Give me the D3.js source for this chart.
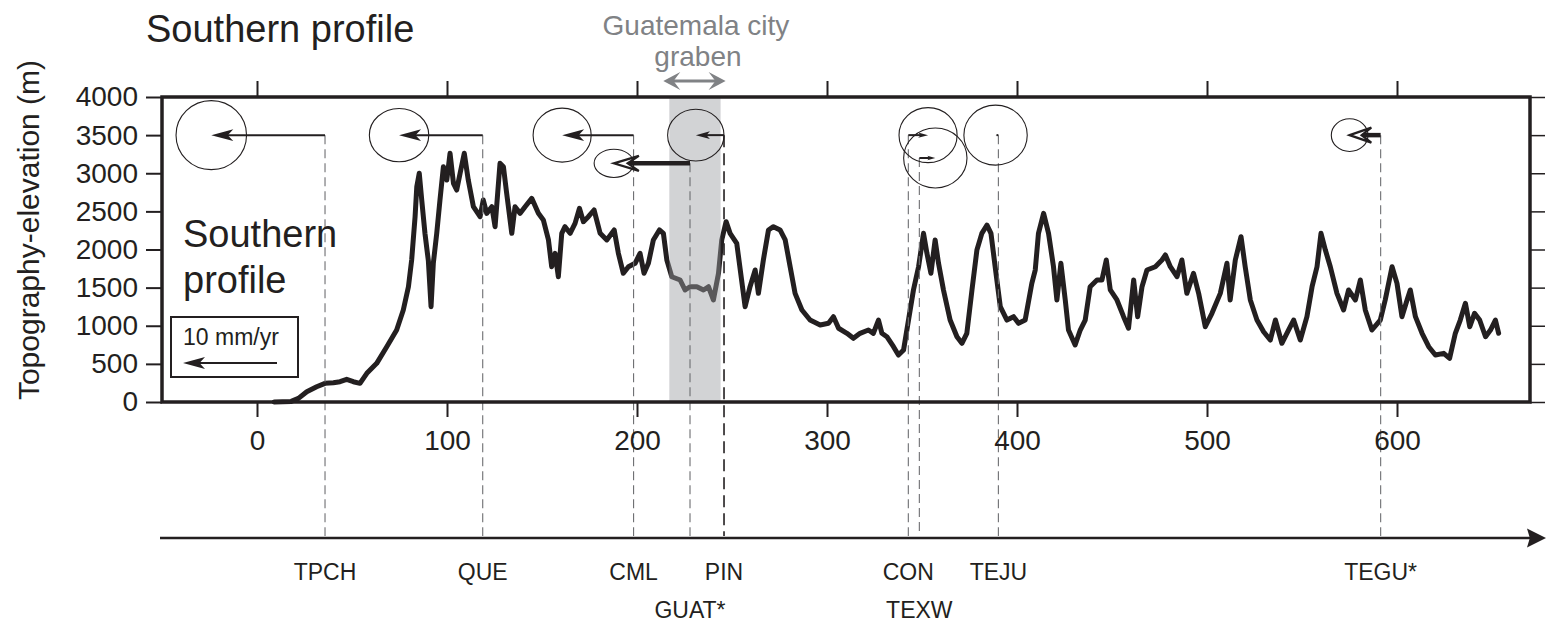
<!DOCTYPE html>
<html><head><meta charset="utf-8">
<script src="https://cdn.jsdelivr.net/npm/d3@7"></script>
<style>
body{margin:0;background:#fff}
svg{display:block}
text{font-family:"Liberation Sans",Arial,Helvetica,sans-serif}
</style>
</head><body>
<svg id="c" width="1546" height="627"></svg>
<script>
// ---------------- DATA ----------------
const xTicks = [0, 100, 200, 300, 400, 500, 600];
const yTicks = [0, 500, 1000, 1500, 2000, 2500, 3000, 3500, 4000];

// topographic profile: distance along profile (km) and elevation (m)
const profileKm = [9,18,21.8,26.2,31.4,35.8,40.2,43.7,47.2,50.7,54.2,57.8,63.0,68.3,73.5,77.0,79.7,81.4,83.2,84.1,85.4,86.7,88.4,90.2,91.6,92.8,94.6,96.3,98.1,99.9,101.6,103.4,105.1,106.9,109.1,111.2,113.9,117.4,119.1,120.9,123.6,125.3,127.9,129.7,131.4,134.1,135.8,138.5,141.1,144.6,148.1,150.7,153.4,155.1,156.9,158.6,160.4,162.1,164.8,167.4,169.7,171.8,174.4,177.4,180.6,184.1,188.0,190.2,192.8,195.5,199.0,201.6,203.7,206.0,208.6,211.8,213.9,215.7,218.3,222.7,225.3,227.9,231.5,235.0,237.6,240.2,242.9,244.6,246.9,249.0,252.5,256.9,259.5,262.2,263.9,266.5,269.2,271.8,275.3,278.0,280.6,283.2,286.8,291.1,296.4,300.8,303.4,306.1,310.5,313.9,317.4,321.8,324.4,327.1,328.9,331.5,335.0,337.6,340.3,342.9,345.5,348.2,350.8,352.6,354.7,356.9,358.7,361.3,364.8,368.4,371.0,373.6,376.3,378.9,381.5,384.2,386.3,388.5,391.2,394.7,398.2,400.8,404.3,407.8,409.6,411.3,414.0,416.6,419.2,421.0,423.1,425.4,427.1,430.6,433.3,435.9,438.5,442.1,444.7,447.0,449.1,452.6,456.1,458.7,461.4,463.5,465.8,468.4,472.8,476.3,478.1,480.7,484.2,486.8,489.4,492.9,495.6,499.1,502.6,507.0,510.5,512.2,514.9,517.9,520.1,522.8,526.3,529.8,533.3,536.0,539.4,542.9,545.6,549.1,552.6,555.3,557.9,560.0,562.3,564.9,568.4,571.9,574.5,578.1,580.7,583.3,586.8,591.2,593.8,597.4,600.0,602.6,605.3,607.0,609.7,613.2,616.7,620.2,624.6,627.7,630.7,633.3,636.0,638.3,640.8,643.5,646.6,649.2,651.8,653.5];
const profileElev = [0,8,48,135,200,245,253,266,297,266,245,376,507,725,944,1207,1512,1862,2430,2824,3000,2649,2212,1849,1250,1819,2212,2649,3086,2911,3262,2868,2780,3000,3262,2911,2561,2430,2649,2474,2561,2299,3130,3086,2737,2212,2561,2474,2561,2671,2474,2387,2125,1774,1950,1643,2212,2299,2212,2343,2540,2365,2430,2518,2212,2125,2256,1950,1688,1774,1819,1950,1688,1819,2125,2256,2212,1862,1643,1600,1469,1512,1512,1469,1512,1338,1688,2125,2365,2212,2081,1250,1512,1731,1425,1862,2256,2299,2256,2125,1774,1425,1207,1075,1010,1032,1119,967,901,835,901,944,901,1075,901,856,725,616,682,1075,1469,1774,2212,1950,1688,2125,1819,1469,1075,856,770,901,1469,1993,2212,2321,2212,1774,1250,1075,1119,1032,1075,1556,1731,2212,2474,2212,1774,1338,1819,1338,944,748,944,1075,1512,1600,1600,1862,1469,1338,1119,967,1600,1119,1512,1731,1774,1862,1928,1774,1643,1862,1425,1688,1425,987,1163,1425,1819,1338,1862,2168,1774,1338,1075,922,813,1075,770,944,1075,813,1119,1512,1774,2212,1993,1774,1425,1207,1469,1338,1600,1207,944,1075,1338,1774,1556,1119,1338,1469,1119,901,725,616,638,573,901,1075,1294,987,1163,1075,856,944,1075,901];

// GPS stations projected on the profile
const stationNames = ["TPCH", "QUE", "CML", "GUAT*", "PIN", "CON", "TEXW", "TEJU", "TEGU*"];
const stationKm    = [35.8, 118.8, 198.2, 227.9, 245.8, 342.8, 348.6, 390.2, 591.4];
const stationPlotElev = [3500, 3500, 3500, 3130, 3500, 3500, 3200, 3500, 3500];
const stationVel   = [-12.1, -8.9, -7.6, -8.1, -3.0, 2.1, 1.7, -0.3, -3.3];   // mm/yr along profile
const stationSigX  = [3.75, 3.16, 3.09, 2.1, 3.0, 3.09, 3.37, 3.37, 1.95];     // mm/yr
const stationSigY  = [3.67, 2.84, 2.87, 1.5, 2.75, 2.93, 3.19, 3.19, 1.74];    // mm/yr
const stationLabelRow = [0, 0, 0, 1, 0, 0, 1, 0, 0];
const thickStations = ["GUAT*", "TEGU*"];

const grabenKm = [217, 244];
const legendVel = 10; // mm/yr

// ---------------- DRAW ----------------
const ink = "#231f20", grey = "#808285";
const svg = d3.select("#c");
const x = d3.scaleLinear().domain([-50, 670]).range([162, 1530]);
const y = d3.scaleLinear().domain([0, 4000]).range([402, 97]);
const v = d3.scaleLinear().domain([0, 10]).range([0, 94]);
const axisArrowY = 538;

// titles
svg.append("text").attr("x", 146).attr("y", 42).attr("font-size", 38).attr("fill", ink).text("Southern profile");
svg.append("text").attr("transform", "translate(39,230) rotate(-90)").attr("text-anchor", "middle")
  .attr("font-size", 30).attr("fill", ink).text("Topography-elevation (m)");

// graben label
const gx = (x(grabenKm[0]) + x(grabenKm[1])) / 2;
svg.append("text").attr("x", gx + 1).attr("y", 35).attr("text-anchor", "middle").attr("font-size", 28).attr("fill", grey).text("Guatemala city");
svg.append("text").attr("x", gx + 3).attr("y", 66).attr("text-anchor", "middle").attr("font-size", 28).attr("fill", grey).text("graben");

function head(tx, ty, dir, L, W, notch) {
  return [[tx, ty], [tx - dir * L, ty - W], [tx - dir * L * notch, ty], [tx - dir * L, ty + W]];
}
const lineGen = d3.line();
{
  const a0 = x(grabenKm[0]) - 6, a1 = x(grabenKm[1]) + 5, ay = 81;
  svg.append("line").attr("x1", a0 + 8).attr("x2", a1 - 8).attr("y1", ay).attr("y2", ay)
    .attr("stroke", grey).attr("stroke-width", 3);
  svg.append("path").attr("d", lineGen(head(a1, ay, 1, 17, 9, 0.6)) + "Z").attr("fill", grey);
  svg.append("path").attr("d", lineGen(head(a0, ay, -1, 17, 9, 0.6)) + "Z").attr("fill", grey);
}

// profile
const line = d3.line().x(d => x(d[0])).y(d => y(d[1]));
svg.append("path").datum(d3.zip(profileKm, profileElev)).attr("d", line)
  .attr("fill", "none").attr("stroke", ink).attr("stroke-width", 5)
  .attr("stroke-linejoin", "round").attr("stroke-linecap", "round");

// graben shading
svg.append("rect").attr("x", x(grabenKm[0])).attr("y", y(4000))
  .attr("width", x(grabenKm[1]) - x(grabenKm[0])).attr("height", y(0) - y(4000))
  .attr("fill", "#9c9ea1").attr("fill-opacity", 0.45);

// station dashed lines
const st = stationNames.map((n, i) => ({
  name: n, km: stationKm[i], el: stationPlotElev[i], vel: stationVel[i],
  sx: stationSigX[i], sy: stationSigY[i], row: stationLabelRow[i], thick: thickStations.includes(n)
}));
svg.append("g").selectAll("line").data(st).join("line")
  .attr("x1", d => x(d.km)).attr("x2", d => x(d.km))
  .attr("y1", d => y(d.el)).attr("y2", axisArrowY - 2)
  .attr("stroke", d => d.name === "PIN" ? ink : "#6d6e71")
  .attr("stroke-width", d => d.name === "PIN" ? 1.6 : 1.1)
  .attr("stroke-dasharray", d => d.name === "PIN" ? "12,6" : "9,5");

// error ellipses
svg.append("g").selectAll("ellipse").data(st).join("ellipse")
  .attr("cx", d => x(d.km) + v(d.vel)).attr("cy", d => y(d.el))
  .attr("rx", d => v(d.sx)).attr("ry", d => v(d.sy))
  .attr("fill", "none").attr("stroke", ink).attr("stroke-width", 1.1);

// velocity arrows
function drawArrow(g, x0, y0, len, thick) {
  const dir = len < 0 ? -1 : 1, a = Math.abs(len), tip = x0 + len;
  if (thick) {
    const L = Math.min(25, 0.7 * a), W = 7.5;
    g.append("line").attr("x1", x0).attr("x2", tip - dir * L * 0.55).attr("y1", y0).attr("y2", y0)
      .attr("stroke", ink).attr("stroke-width", 4.5);
    g.append("path").attr("d", lineGen(head(tip, y0, dir, L, W, 0.55)) + "Z")
      .attr("fill", "#fff").attr("stroke", ink).attr("stroke-width", 2.2).attr("stroke-linejoin", "miter");
  } else {
    const L = Math.min(22, 0.5 * a), W = L * 0.27;
    g.append("line").attr("x1", x0).attr("x2", tip - dir * L * 0.7).attr("y1", y0).attr("y2", y0)
      .attr("stroke", ink).attr("stroke-width", 2);
    g.append("path").attr("d", lineGen(head(tip, y0, dir, L, W, 0.75)) + "Z").attr("fill", ink);
  }
}
const ga = svg.append("g");
st.forEach(d => drawArrow(ga, x(d.km), y(d.el), v(d.vel), d.thick));

// inner label
svg.append("text").attr("x", 183).attr("y", 247).attr("font-size", 38).attr("fill", ink).text("Southern");
svg.append("text").attr("x", 183).attr("y", 293).attr("font-size", 38).attr("fill", ink).text("profile");

// legend
svg.append("rect").attr("x", 171).attr("y", 317).attr("width", 127).attr("height", 60)
  .attr("fill", "#fff").attr("stroke", ink).attr("stroke-width", 2);
svg.append("text").attr("x", 183).attr("y", 345).attr("font-size", 23).attr("fill", ink).text(legendVel + " mm/yr");
drawArrow(svg.append("g"), 277, 363, -v(legendVel), false);

// frame
svg.append("rect").attr("x", 162).attr("y", 97).attr("width", 1530 - 162).attr("height", 402 - 97)
  .attr("fill", "none").attr("stroke", ink).attr("stroke-width", 3.5);

// axes
function styleAxis(g, w) {
  g.select(".domain").remove();
  g.selectAll(".tick line").attr("stroke", ink).attr("stroke-width", w);
  g.selectAll(".tick text").attr("fill", ink).attr("font-size", 28)
    .attr("font-family", '"Liberation Sans",Arial,sans-serif');
}
const fmt = d3.format("d");
svg.append("g").attr("transform", "translate(162,0)")
  .call(d3.axisLeft(y).tickValues(yTicks).tickSize(16).tickPadding(8).tickFormat(fmt)).call(g => styleAxis(g, 2));
svg.append("g").attr("transform", "translate(1530,0)")
  .call(d3.axisRight(y).tickValues(yTicks).tickSize(15).tickFormat("")).call(g => styleAxis(g, 1.5));
svg.append("g").attr("transform", "translate(0,97)")
  .call(d3.axisTop(x).tickValues(xTicks).tickSize(16).tickFormat("")).call(g => styleAxis(g, 2));
svg.append("g").attr("transform", "translate(0,402)")
  .call(d3.axisBottom(x).tickValues(xTicks).tickSize(15).tickPadding(13).tickFormat(fmt)).call(g => styleAxis(g, 2));

// bottom distance arrow
svg.append("line").attr("x1", 160).attr("x2", 1532).attr("y1", axisArrowY).attr("y2", axisArrowY)
  .attr("stroke", ink).attr("stroke-width", 2.5);
svg.append("path").attr("d", lineGen(head(1546, axisArrowY, 1, 19, 9.5, 0.85)) + "Z").attr("fill", ink);

// station labels
svg.append("g").selectAll("text").data(st).join("text")
  .attr("x", d => x(d.km)).attr("y", d => d.row ? 618 : 580)
  .attr("text-anchor", "middle").attr("font-size", 23).attr("fill", ink).text(d => d.name);
</script>
</body></html>
